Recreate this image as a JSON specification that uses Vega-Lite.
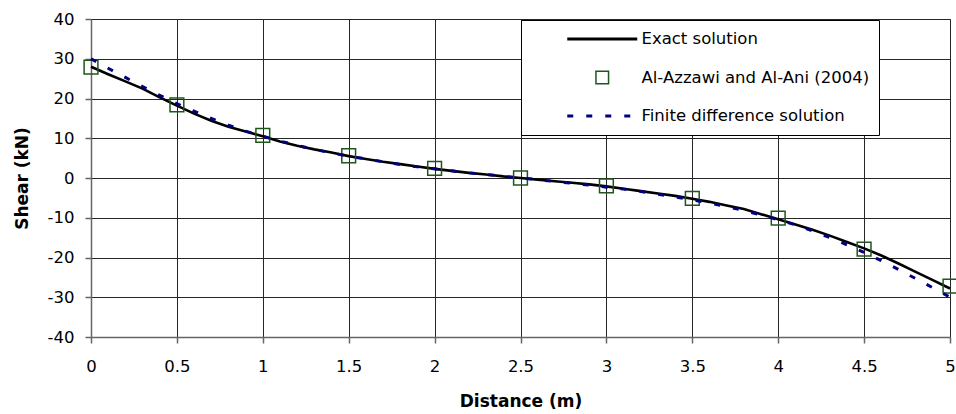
{
  "$schema": "https://vega.github.io/schema/vega-lite/v6.json",
  "width": 859,
  "height": 318,
  "autosize": {"type": "none"},
  "padding": {"left": 91, "top": 19, "right": 6, "bottom": 77},
  "background": "white",
  "config": {
    "view": {"stroke": "#808080", "strokeWidth": 1},
    "font": "DejaVu Sans",
    "axis": {
      "labelFont": "DejaVu Sans",
      "labelFontSize": 16.5,
      "labelColor": "#000000",
      "labelFlush": false,
      "labelOverlap": false,
      "titleFont": "DejaVu Sans",
      "titleFontSize": 17,
      "titleFontWeight": "bold",
      "titleColor": "#000000",
      "grid": true,
      "gridColor": "#262626",
      "gridWidth": 1,
      "domainColor": "#666666",
      "domainWidth": 1.5,
      "tickColor": "#666666",
      "tickWidth": 1.5,
      "tickSize": 6
    },
    "legend": {
      "orient": "none",
      "legendX": 430,
      "legendY": 1,
      "fillColor": "white",
      "strokeColor": "#000000",
      "strokeWidth": 1,
      "padding": 9,
      "labelFont": "DejaVu Sans",
      "labelFontSize": 16.5,
      "labelColor": "#000000",
      "labelLimit": 0,
      "symbolSize": 4900,
      "clipHeight": 20,
      "rowPadding": 18.5,
      "symbolOffset": 64,
      "labelOffset": 31
    }
  },
  "data": {
    "values": [
      {"x": 0.0, "shear": 28.0, "series": "Exact solution"},
      {"x": 0.1, "shear": 26.1, "series": "Exact solution"},
      {"x": 0.2, "shear": 24.3, "series": "Exact solution"},
      {"x": 0.3, "shear": 22.5, "series": "Exact solution"},
      {"x": 0.4, "shear": 20.3, "series": "Exact solution"},
      {"x": 0.5, "shear": 18.2, "series": "Exact solution"},
      {"x": 0.6, "shear": 16.2, "series": "Exact solution"},
      {"x": 0.7, "shear": 14.4, "series": "Exact solution"},
      {"x": 0.8, "shear": 12.9, "series": "Exact solution"},
      {"x": 0.9, "shear": 11.7, "series": "Exact solution"},
      {"x": 1.0, "shear": 10.5, "series": "Exact solution"},
      {"x": 1.1, "shear": 9.2, "series": "Exact solution"},
      {"x": 1.2, "shear": 8.1, "series": "Exact solution"},
      {"x": 1.3, "shear": 7.2, "series": "Exact solution"},
      {"x": 1.4, "shear": 6.4, "series": "Exact solution"},
      {"x": 1.5, "shear": 5.5, "series": "Exact solution"},
      {"x": 1.6, "shear": 4.8, "series": "Exact solution"},
      {"x": 1.7, "shear": 4.1, "series": "Exact solution"},
      {"x": 1.8, "shear": 3.5, "series": "Exact solution"},
      {"x": 1.9, "shear": 2.9, "series": "Exact solution"},
      {"x": 2.0, "shear": 2.3, "series": "Exact solution"},
      {"x": 2.1, "shear": 1.8, "series": "Exact solution"},
      {"x": 2.2, "shear": 1.3, "series": "Exact solution"},
      {"x": 2.3, "shear": 0.9, "series": "Exact solution"},
      {"x": 2.4, "shear": 0.4, "series": "Exact solution"},
      {"x": 2.5, "shear": 0.0, "series": "Exact solution"},
      {"x": 2.6, "shear": -0.4, "series": "Exact solution"},
      {"x": 2.7, "shear": -0.8, "series": "Exact solution"},
      {"x": 2.8, "shear": -1.2, "series": "Exact solution"},
      {"x": 2.9, "shear": -1.6, "series": "Exact solution"},
      {"x": 3.0, "shear": -2.1, "series": "Exact solution"},
      {"x": 3.1, "shear": -2.7, "series": "Exact solution"},
      {"x": 3.2, "shear": -3.3, "series": "Exact solution"},
      {"x": 3.3, "shear": -3.9, "series": "Exact solution"},
      {"x": 3.4, "shear": -4.5, "series": "Exact solution"},
      {"x": 3.5, "shear": -5.2, "series": "Exact solution"},
      {"x": 3.6, "shear": -6.0, "series": "Exact solution"},
      {"x": 3.7, "shear": -6.9, "series": "Exact solution"},
      {"x": 3.8, "shear": -7.8, "series": "Exact solution"},
      {"x": 3.9, "shear": -9.1, "series": "Exact solution"},
      {"x": 4.0, "shear": -10.4, "series": "Exact solution"},
      {"x": 4.1, "shear": -11.7, "series": "Exact solution"},
      {"x": 4.2, "shear": -13.0, "series": "Exact solution"},
      {"x": 4.3, "shear": -14.5, "series": "Exact solution"},
      {"x": 4.4, "shear": -16.1, "series": "Exact solution"},
      {"x": 4.5, "shear": -17.7, "series": "Exact solution"},
      {"x": 4.6, "shear": -19.5, "series": "Exact solution"},
      {"x": 4.7, "shear": -21.5, "series": "Exact solution"},
      {"x": 4.8, "shear": -23.6, "series": "Exact solution"},
      {"x": 4.9, "shear": -25.7, "series": "Exact solution"},
      {"x": 5.0, "shear": -27.8, "series": "Exact solution"},

      {"x": 0.0, "shear": 27.9, "series": "Al-Azzawi and Al-Ani (2004)"},
      {"x": 0.5, "shear": 18.4, "series": "Al-Azzawi and Al-Ani (2004)"},
      {"x": 1.0, "shear": 10.7, "series": "Al-Azzawi and Al-Ani (2004)"},
      {"x": 1.5, "shear": 5.6, "series": "Al-Azzawi and Al-Ani (2004)"},
      {"x": 2.0, "shear": 2.4, "series": "Al-Azzawi and Al-Ani (2004)"},
      {"x": 2.5, "shear": 0.0, "series": "Al-Azzawi and Al-Ani (2004)"},
      {"x": 3.0, "shear": -2.0, "series": "Al-Azzawi and Al-Ani (2004)"},
      {"x": 3.5, "shear": -5.1, "series": "Al-Azzawi and Al-Ani (2004)"},
      {"x": 4.0, "shear": -10.1, "series": "Al-Azzawi and Al-Ani (2004)"},
      {"x": 4.5, "shear": -17.9, "series": "Al-Azzawi and Al-Ani (2004)"},
      {"x": 5.0, "shear": -27.2, "series": "Al-Azzawi and Al-Ani (2004)"},

      {"x": 0.0, "shear": 30.0, "series": "Finite difference solution"},
      {"x": 0.1, "shear": 27.6, "series": "Finite difference solution"},
      {"x": 0.2, "shear": 25.3, "series": "Finite difference solution"},
      {"x": 0.3, "shear": 23.0, "series": "Finite difference solution"},
      {"x": 0.4, "shear": 20.8, "series": "Finite difference solution"},
      {"x": 0.5, "shear": 18.7, "series": "Finite difference solution"},
      {"x": 0.6, "shear": 16.8, "series": "Finite difference solution"},
      {"x": 0.7, "shear": 15.0, "series": "Finite difference solution"},
      {"x": 0.8, "shear": 13.3, "series": "Finite difference solution"},
      {"x": 0.9, "shear": 11.8, "series": "Finite difference solution"},
      {"x": 1.0, "shear": 10.5, "series": "Finite difference solution"},
      {"x": 1.1, "shear": 9.3, "series": "Finite difference solution"},
      {"x": 1.2, "shear": 8.2, "series": "Finite difference solution"},
      {"x": 1.3, "shear": 7.2, "series": "Finite difference solution"},
      {"x": 1.4, "shear": 6.3, "series": "Finite difference solution"},
      {"x": 1.5, "shear": 5.5, "series": "Finite difference solution"},
      {"x": 1.6, "shear": 4.8, "series": "Finite difference solution"},
      {"x": 1.7, "shear": 4.1, "series": "Finite difference solution"},
      {"x": 1.8, "shear": 3.4, "series": "Finite difference solution"},
      {"x": 1.9, "shear": 2.8, "series": "Finite difference solution"},
      {"x": 2.0, "shear": 2.3, "series": "Finite difference solution"},
      {"x": 2.1, "shear": 1.8, "series": "Finite difference solution"},
      {"x": 2.2, "shear": 1.3, "series": "Finite difference solution"},
      {"x": 2.3, "shear": 0.9, "series": "Finite difference solution"},
      {"x": 2.4, "shear": 0.4, "series": "Finite difference solution"},
      {"x": 2.5, "shear": 0.0, "series": "Finite difference solution"},
      {"x": 2.6, "shear": -0.4, "series": "Finite difference solution"},
      {"x": 2.7, "shear": -0.9, "series": "Finite difference solution"},
      {"x": 2.8, "shear": -1.3, "series": "Finite difference solution"},
      {"x": 2.9, "shear": -1.8, "series": "Finite difference solution"},
      {"x": 3.0, "shear": -2.3, "series": "Finite difference solution"},
      {"x": 3.1, "shear": -2.8, "series": "Finite difference solution"},
      {"x": 3.2, "shear": -3.4, "series": "Finite difference solution"},
      {"x": 3.3, "shear": -4.1, "series": "Finite difference solution"},
      {"x": 3.4, "shear": -4.8, "series": "Finite difference solution"},
      {"x": 3.5, "shear": -5.5, "series": "Finite difference solution"},
      {"x": 3.6, "shear": -6.3, "series": "Finite difference solution"},
      {"x": 3.7, "shear": -7.2, "series": "Finite difference solution"},
      {"x": 3.8, "shear": -8.2, "series": "Finite difference solution"},
      {"x": 3.9, "shear": -9.3, "series": "Finite difference solution"},
      {"x": 4.0, "shear": -10.5, "series": "Finite difference solution"},
      {"x": 4.1, "shear": -11.8, "series": "Finite difference solution"},
      {"x": 4.2, "shear": -13.3, "series": "Finite difference solution"},
      {"x": 4.3, "shear": -15.0, "series": "Finite difference solution"},
      {"x": 4.4, "shear": -16.8, "series": "Finite difference solution"},
      {"x": 4.5, "shear": -18.7, "series": "Finite difference solution"},
      {"x": 4.6, "shear": -20.8, "series": "Finite difference solution"},
      {"x": 4.7, "shear": -23.0, "series": "Finite difference solution"},
      {"x": 4.8, "shear": -25.3, "series": "Finite difference solution"},
      {"x": 4.9, "shear": -27.6, "series": "Finite difference solution"},
      {"x": 5.0, "shear": -30.0, "series": "Finite difference solution"}
    ]
  },
  "encoding": {
    "x": {
      "field": "x",
      "type": "quantitative",
      "title": "Distance (m)",
      "scale": {"domain": [0, 5], "nice": false, "zero": false},
      "axis": {
        "values": [0, 0.5, 1, 1.5, 2, 2.5, 3, 3.5, 4, 4.5, 5],
        "labelExpr": "'' + datum.value",
        "labelPadding": 15,
        "titlePadding": 19
      }
    },
    "y": {
      "field": "shear",
      "type": "quantitative",
      "title": "Shear (kN)",
      "scale": {"domain": [-40, 40], "nice": false},
      "axis": {
        "values": [-40, -30, -20, -10, 0, 10, 20, 30, 40],
        "labelExpr": "'' + datum.value",
        "labelPadding": 11,
        "titlePadding": 16
      }
    },
    "color": {
      "field": "series",
      "type": "nominal",
      "scale": {
        "domain": ["Exact solution", "Al-Azzawi and Al-Ani (2004)", "Finite difference solution"],
        "range": ["#000000", "#1E561E", "#000080"]
      },
      "legend": {
        "title": null,
        "encode": {
          "symbols": {
            "update": {
              "shape": {"signal": "datum.value === 'Al-Azzawi and Al-Ani (2004)' ? 'M-0.18,-0.18H0.18V0.18H-0.18Z' : 'stroke'"},
              "stroke": {"scale": "color", "field": "value"},
              "fill": {"value": "transparent"},
              "opacity": {"value": 1},
              "strokeWidth": {"signal": "datum.value === 'Al-Azzawi and Al-Ani (2004)' ? 1.5 : 3"},
              "strokeDash": {"signal": "datum.value === 'Finite difference solution' ? [6, 13] : [1, 0]"}
            }
          }
        }
      }
    }
  },
  "layer": [
    {
      "transform": [{"filter": "datum.series === 'Exact solution'"}],
      "mark": {"type": "line", "strokeWidth": 2.6, "interpolate": "linear"}
    },
    {
      "transform": [{"filter": "datum.series === 'Al-Azzawi and Al-Ani (2004)'"}],
      "mark": {"type": "point", "shape": "square", "filled": false, "size": 190, "strokeWidth": 1.5, "opacity": 1}
    },
    {
      "transform": [{"filter": "datum.series === 'Finite difference solution'"}],
      "mark": {"type": "line", "strokeWidth": 3, "strokeDash": [6, 13]}
    }
  ]
}
